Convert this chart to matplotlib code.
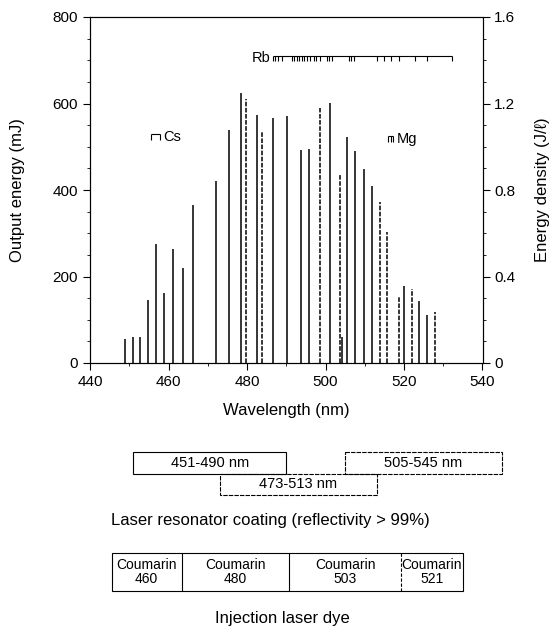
import matplotlib
matplotlib.use("Agg")
import matplotlib.pyplot as plt
from matplotlib.patches import Rectangle
from matplotlib.ticker import MultipleLocator

plt.rcParams['font.family'] = ['Liberation Sans', 'DejaVu Sans']

# output energy of each laser line (mJ) vs wavelength (nm)
wavelength = [448.9, 451.0, 452.8, 454.8, 456.8, 458.9, 461.1, 463.8, 466.2, 472.1,
              475.5, 478.5, 479.8, 482.5, 483.8, 486.6, 490.2, 493.7, 495.8, 498.7,
              501.2, 503.8, 504.2, 505.5, 507.6, 509.7, 511.9, 514.0, 515.7, 518.6,
              520.1, 522.1, 523.9, 525.9, 527.8]
energy = [55, 60, 61, 146, 275, 163, 264, 220, 366, 420,
          539, 624, 611, 573, 533, 567, 570, 492, 494, 590,
          602, 436, 61, 523, 491, 448, 410, 373, 304, 154,
          177, 171, 144, 111, 117]
# lines drawn dashed in the original
dashed = [479.8, 483.8, 498.7, 503.8, 514.0, 515.7, 518.6, 522.1, 527.8]

# absorption line markers
rb_lines = [486.7, 487.2, 488.0, 488.9, 491.4, 492.0, 492.7, 493.3, 494.0, 494.6,
            495.4, 496.1, 497.0, 497.7, 498.5, 500.4, 501.0, 501.7, 505.9, 506.5,
            507.2, 513.1, 514.8, 516.7, 518.7, 522.9, 525.9, 532.3]
rb_level = 710
cs_lines = [455.5, 457.9]
cs_level = 530
mg_lines = [515.9, 516.6, 517.3]
mg_level = 525

# resonator coatings and dyes (nm)
coating_lo = [451, 473, 505]
coating_hi = [490, 513, 545]
coating_row = [0, 1, 0]
coating_labels = ['451-490 nm', '473-513 nm', '505-545 nm']
dye_edges = [445.5, 463.4, 490.8, 519.2, 535.0]
dye_labels = ['Coumarin\n460', 'Coumarin\n480', 'Coumarin\n503', 'Coumarin\n521']

W, H = 555, 633
def px_rect(x0, y0, x1, y1):
    return [x0 / W, 1 - y1 / H, (x1 - x0) / W, (y1 - y0) / H]

fig = plt.figure(figsize=(W / 100, H / 100), dpi=100)
ax = fig.add_axes(px_rect(90, 17, 482.5, 363))

solid_wl = [w for w in wavelength if w not in dashed]
solid_e = [e for w, e in zip(wavelength, energy) if w not in dashed]
dash_wl = [w for w in wavelength if w in dashed]
dash_e = [e for w, e in zip(wavelength, energy) if w in dashed]
ax.vlines(solid_wl, 0, solid_e, color='black', lw=1.1)
ax.vlines(dash_wl, 0, dash_e, color='black', lw=1.1, linestyles=(0, (3, 1)))

# Rb bracket
ax.hlines(rb_level, rb_lines[0], rb_lines[-1], color='black', lw=0.8)
ax.vlines(rb_lines, rb_level - 12, rb_level, color='black', lw=0.8)
ax.text(rb_lines[0] - 0.8, rb_level - 5, 'Rb', ha='right', va='center', fontsize=10.5)
# Cs bracket
ax.hlines(cs_level, cs_lines[0], cs_lines[-1], color='black', lw=0.8)
ax.vlines(cs_lines, cs_level - 14, cs_level, color='black', lw=0.8)
ax.text(cs_lines[-1] + 0.8, cs_level - 7, 'Cs', ha='left', va='center', fontsize=10.5)
# Mg bracket
ax.hlines(mg_level, mg_lines[0], mg_lines[-1], color='black', lw=0.8)
ax.vlines(mg_lines, mg_level - 14, mg_level, color='black', lw=0.8)
ax.text(mg_lines[-1] + 0.8, mg_level - 8, 'Mg', ha='left', va='center', fontsize=10.5)

ax.set_xlim(440, 540)
ax.set_ylim(0, 800)
ax.xaxis.set_major_locator(MultipleLocator(20))
ax.xaxis.set_minor_locator(MultipleLocator(10))
ax.yaxis.set_major_locator(MultipleLocator(200))
ax.yaxis.set_minor_locator(MultipleLocator(50))
ax.tick_params(which='major', length=5, width=0.8, labelsize=11, direction='out')
ax.tick_params(which='minor', length=2.5, width=0.6, direction='out')
for s in ax.spines.values():
    s.set_linewidth(0.8)

ax2 = ax.twinx()
ax2.set_ylim(0, 1.6)
ax2.yaxis.set_minor_locator(MultipleLocator(0.1))
ax2.set_yticks([0, 0.4, 0.8, 1.2, 1.6])
ax2.set_yticklabels(['0', '0.4', '0.8', '1.2', '1.6'])
ax2.tick_params(which='major', length=5, width=0.8, labelsize=11, direction='out')
ax2.tick_params(which='minor', length=2.5, width=0.6, direction='out')
ax2.spines['right'].set_linewidth(0.8)

fig.text(18 / W, 1 - 190 / H, 'Output energy (mJ)', rotation=90, ha='center', va='center', fontsize=12)
fig.text(543 / W, 1 - 190 / H, 'Energy density (J/\u2113)', rotation=90, ha='center', va='center', fontsize=12)
fig.text(286 / W, 1 - 410 / H, 'Wavelength (nm)', ha='center', va='center', fontsize=12)

# lower panel on the same wavelength scale
axb = fig.add_axes(px_rect(90, 430, 482.5, 633))
axb.set_xlim(440, 540)
axb.set_ylim(633, 430)
axb.axis('off')

row_top = [452, 473.5]
row_h = 21.5
for lo, hi, r, lab in zip(coating_lo, coating_hi, coating_row, coating_labels):
    ls = '-' if r == 0 and lo < 500 else (0, (4, 1))
    axb.add_patch(Rectangle((lo, row_top[r]), hi - lo, row_h, fill=False,
                            ec='black', lw=0.8, ls=ls, clip_on=False))
    axb.text((lo + hi) / 2, row_top[r] + row_h / 2, lab, ha='center', va='center',
             fontsize=10.5, clip_on=False)

axb.text(486, 520, 'Laser resonator coating (reflectivity > 99%)', ha='center',
         va='center', fontsize=12, clip_on=False)

dye_top, dye_bot = 553, 591
axb.add_patch(Rectangle((dye_edges[0], dye_top), dye_edges[-1] - dye_edges[0],
                        dye_bot - dye_top, fill=False, ec='black', lw=0.8, clip_on=False))
for i, edge in enumerate(dye_edges[1:-1]):
    axb.vlines(edge, dye_top, dye_bot, color='black', lw=0.8,
               linestyles='-' if i < 2 else (0, (3, 1.5)))
for lo, hi, lab in zip(dye_edges[:-1], dye_edges[1:], dye_labels):
    axb.text((lo + hi) / 2, (dye_top + dye_bot) / 2, lab, ha='center', va='center',
             fontsize=10, linespacing=1.0, clip_on=False)

axb.text(489, 619, 'Injection laser dye', ha='center', va='center', fontsize=12,
         clip_on=False)

fig.savefig('out.png', dpi=100)
